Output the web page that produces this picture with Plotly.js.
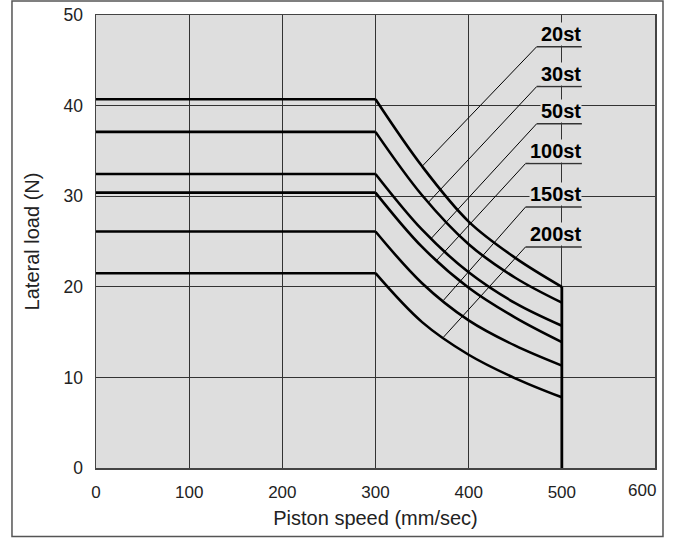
<!DOCTYPE html>
<html>
<head>
<meta charset="utf-8">
<script src="https://cdn.plot.ly/plotly-3.0.1.min.js"></script>
<style>html,body{margin:0;padding:0;background:#fff;}#chart{width:676px;height:538px;}</style>
</head>
<body>
<div id="chart"></div>
<script>
// ---- data ----
const strokeLabels = ["20st", "30st", "50st", "100st", "150st", "200st"];
const flatSpeeds = [0, 300];
const curveSpeeds = [300, 350, 400, 450, 500];
const load20st  = [40.7, 33.3, 27.2, 23.2, 20.0];
const load30st  = [37.1, 30.1, 24.7, 21.0, 18.25];
const load50st  = [32.45, 26.3, 21.6, 18.2, 15.7];
const load100st = [30.4, 24.4, 19.9, 16.6, 13.9];
const load150st = [26.1, 20.4, 16.3, 13.5, 11.3];
const load200st = [21.5, 16.1, 12.5, 9.9, 7.8];
const maxSpeed = 500;
const xTicks = [0, 100, 200, 300, 400, 500, 600];
const yTicks = [0, 10, 20, 30, 40, 50];

// label/leader placement (decoration)
const leaderSpeeds = [350, 357, 360, 366, 373, 373];
const labelLineY = [46.5, 42.1, 38.0, 33.6, 28.8, 24.4];
const labelLineLeft = [473, 473, 473, 461, 461, 461];
const labelLineRight = 521.5;

const series = [load20st, load30st, load50st, load100st, load150st, load200st];

function interp(xs, ys, x) {
  for (let i = 0; i < xs.length - 1; i++) {
    if (x >= xs[i] && x <= xs[i + 1]) {
      const t = (x - xs[i]) / (xs[i + 1] - xs[i]);
      return ys[i] + t * (ys[i + 1] - ys[i]);
    }
  }
  return ys[ys.length - 1];
}

const traces = [];
const lineStyle = {color: "#000", width: 2.6};
series.forEach((s, i) => {
  traces.push({x: flatSpeeds, y: [s[0], s[0]], mode: "lines", line: lineStyle, hoverinfo: "skip", showlegend: false});
  traces.push({x: curveSpeeds, y: s, mode: "lines", line: Object.assign({shape: "spline", smoothing: 1}, lineStyle), hoverinfo: "skip", showlegend: false, name: strokeLabels[i]});
});
traces.push({x: [maxSpeed, maxSpeed], y: [0, load20st[load20st.length - 1]], mode: "lines", line: {color: "#000", width: 2.8}, hoverinfo: "skip", showlegend: false});

const shapes = [];
const annotations = [];
series.forEach((s, i) => {
  const lx = leaderSpeeds[i];
  const ly = interp(curveSpeeds, s, lx);
  shapes.push({type: "line", xref: "x", yref: "y", x0: labelLineLeft[i], y0: labelLineY[i], x1: lx, y1: ly, line: {color: "#000", width: 1}});
  shapes.push({type: "line", xref: "x", yref: "y", x0: labelLineLeft[i], y0: labelLineY[i], x1: labelLineRight, y1: labelLineY[i], line: {color: "#333", width: 1.5}});
  annotations.push({x: labelLineRight, y: labelLineY[i], xref: "x", yref: "y", xanchor: "right", yanchor: "bottom", yshift: 1,
    text: "<b>" + strokeLabels[i] + "</b>", showarrow: false, bgcolor: "#dedede", borderpad: 0,
    font: {family: "Liberation Sans, Arial, sans-serif", size: 20, color: "#000"}});
});
// last x tick label is pulled inside the frame, as in the reference
const lastTick = xTicks[xTicks.length - 1];
annotations.push({x: lastTick, y: 0, xref: "x", yref: "paper", xanchor: "right", yanchor: "top", xshift: 3, yshift: -11,
  text: String(lastTick), showarrow: false, font: {family: "Liberation Sans, Arial, sans-serif", size: 17, color: "#222"}});

// outer frame
shapes.push({type: "rect", xref: "paper", yref: "paper", x0: -0.1503, x1: 1.0143, y0: -0.1512, y1: 1.031, line: {color: "#555", width: 1.5}, fillcolor: "rgba(0,0,0,0)"});

const font = {family: "Liberation Sans, Arial, sans-serif", color: "#222"};
const layout = {
  width: 676, height: 538,
  margin: {l: 96, r: 21, t: 15, b: 70},
  paper_bgcolor: "#fff", plot_bgcolor: "#dedede",
  font: font,
  xaxis: {range: [0, 600], tickvals: xTicks, ticktext: xTicks.map((v, i) => i === xTicks.length - 1 ? " " : String(v)), showgrid: true, gridcolor: "#333", gridwidth: 1,
    zeroline: false, showline: true, mirror: true, linecolor: "#444", linewidth: 1.5, ticks: "", ticklabelstandoff: 8,
    tickfont: {size: 17, family: font.family, color: "#222"},
    title: {text: "Piston speed (mm/sec)", font: {size: 20, family: font.family, color: "#222"}, standoff: 10}},
  yaxis: {range: [0, 50], tickvals: yTicks, ticktext: yTicks.map(String), showgrid: true, gridcolor: "#333", gridwidth: 1,
    zeroline: false, showline: true, mirror: true, linecolor: "#444", linewidth: 1.5, ticks: "", ticklabelstandoff: 8,
    tickfont: {size: 17.5, family: font.family, color: "#222"},
    title: {text: "Lateral load (N)", font: {size: 20, family: font.family, color: "#222"}, standoff: 18}},
  shapes: shapes,
  annotations: annotations,
  showlegend: false
};

Plotly.newPlot("chart", traces, layout, {staticPlot: true, displayModeBar: false});
</script>
</body>
</html>
